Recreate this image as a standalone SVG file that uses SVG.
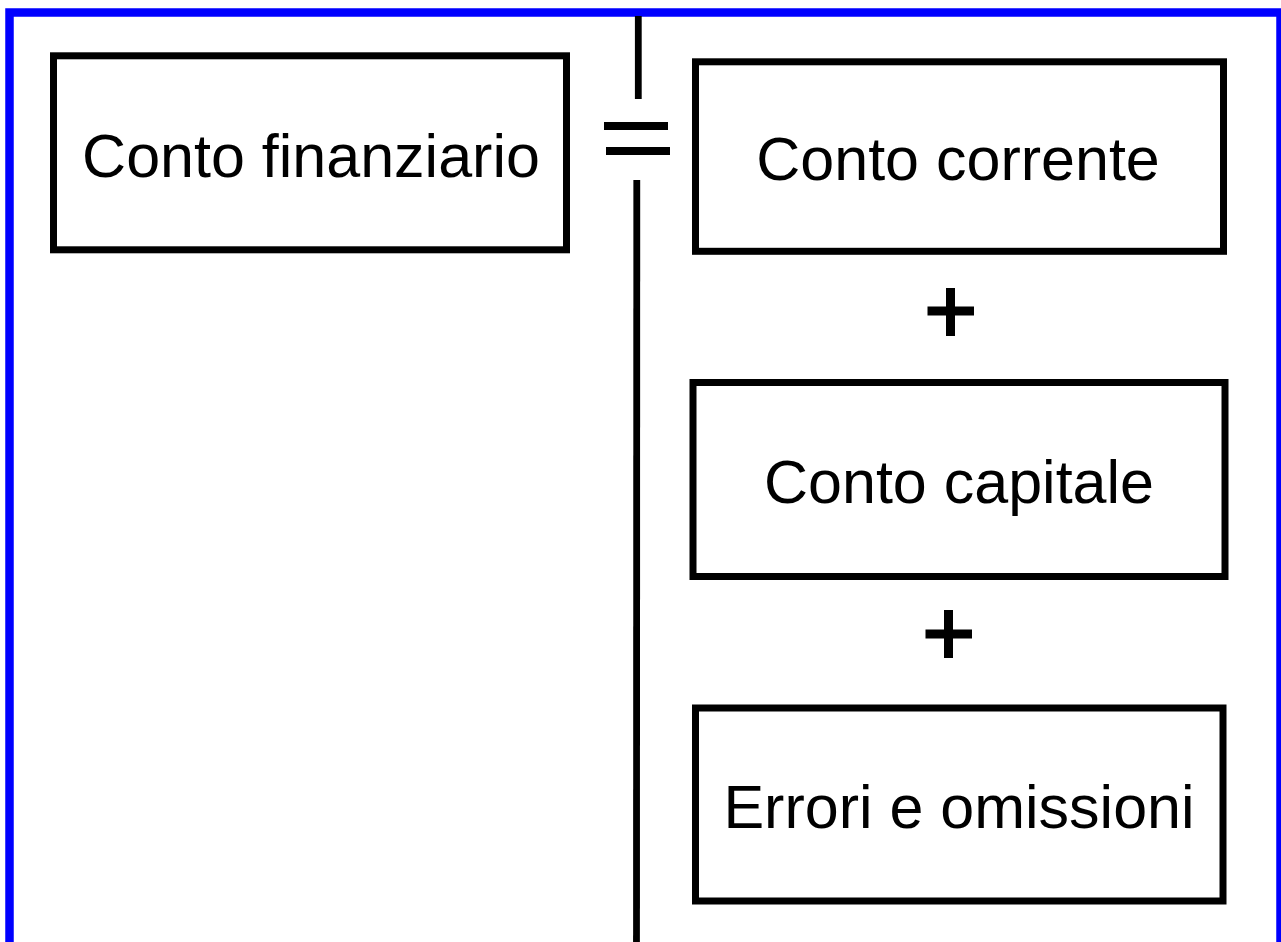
<svg xmlns="http://www.w3.org/2000/svg" width="1281" height="942" viewBox="0 0 1281 942">
<style>
.box{fill:#fff;stroke:#000;stroke-width:7}
.lbl{font-family:"Liberation Sans",Arial,sans-serif;font-size:61px;fill:#000;text-anchor:middle}
.ln{stroke:#000;fill:none}
</style>
<rect x="0" y="0" width="1281" height="942" fill="#fff"/>
<rect x="9.5" y="12.5" width="1271" height="960" fill="none" stroke="#0000ff" stroke-width="8.5"/>
<g id="connectors">
<line class="ln" x1="638.3" y1="16" x2="638.3" y2="99" stroke-width="6.8"/>
<line class="ln" x1="636.8" y1="180" x2="636.5" y2="942" stroke-width="6.8"/>
<line class="ln" x1="604" y1="126" x2="668" y2="126" stroke-width="7.8"/>
<line class="ln" x1="606" y1="151" x2="670" y2="151" stroke-width="7.8"/>
<path class="ln" d="M927.5 311H974M950.5 288V336" stroke-width="9"/>
<path class="ln" d="M925.5 634H972M948.5 610V658" stroke-width="9"/>
</g>
<g id="node-finanziario">
<rect class="box" x="53.5" y="55.8" width="513" height="194"/>
<text class="lbl" x="311" y="177" font-size="62">Conto finanziario</text>
</g>
<g id="node-corrente">
<rect class="box" x="695.5" y="61.8" width="528" height="189.5"/>
<text class="lbl" x="958" y="180" font-size="62">Conto corrente</text>
</g>
<g id="node-capitale">
<rect class="box" x="693" y="382.5" width="532" height="194"/>
<text class="lbl" x="959" y="503" font-size="58">Conto capitale</text>
</g>
<g id="node-errori">
<rect class="box" x="695.5" y="708" width="527.5" height="193"/>
<text class="lbl" x="959" y="828" font-size="58.3">Errori e omissioni</text>
</g>
</svg>
